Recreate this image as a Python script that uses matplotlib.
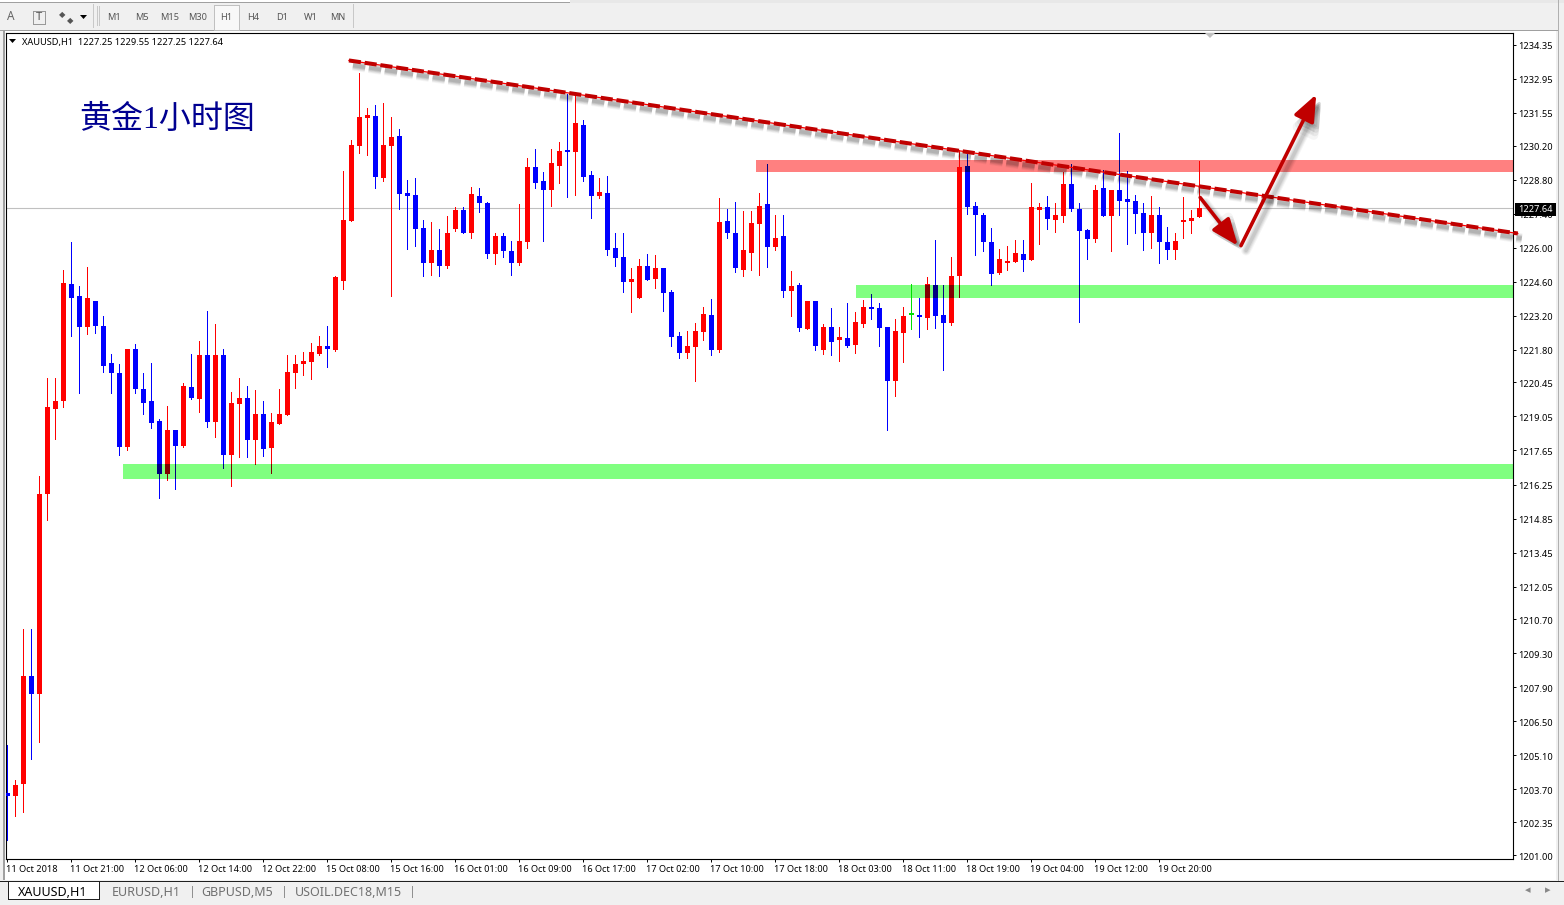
import matplotlib
matplotlib.use("Agg")
import matplotlib.pyplot as plt
from matplotlib.patches import Rectangle, FancyArrowPatch, Polygon
from matplotlib.transforms import offset_copy, ScaledTranslation

W, H = 1564, 905

opens = [1203.57,1203.45,1203.94,1208.39,1207.65,1215.84,1219.37,1219.67,1224.52,1224.02,
1222.75,1223.82,1222.79,1221.23,1220.82,1217.81,1221.84,1220.20,1219.67,1218.88,
1216.70,1218.51,1217.85,1220.28,1219.75,1221.60,1218.84,1221.56,1217.48,1219.58,
1219.79,1218.10,1219.17,1217.77,1218.76,1219.13,1220.82,1221.19,1221.31,1221.64,
1221.97,1221.80,1224.64,1227.11,1230.20,1231.35,1231.43,1228.88,1230.20,1230.61,
1228.26,1228.18,1226.82,1225.38,1225.92,1225.26,1226.78,1227.56,1226.62,1228.14,
1227.85,1225.75,1226.49,1225.84,1225.38,1226.21,1229.33,1228.72,1228.39,1229.37,
1230.03,1229.95,1231.06,1229.00,1228.14,1228.26,1226.00,1225.63,1224.60,1223.94,
1225.26,1224.72,1225.14,1224.19,1222.38,1221.68,1221.89,1222.54,1223.24,1221.80,
1227.11,1226.62,1225.09,1225.79,1226.99,1227.81,1226.04,1226.49,1224.23,1224.44,
1222.67,1223.82,1221.80,1222.75,1222.21,1222.26,1222.01,1222.87,1223.57,1223.53,
1222.75,1220.49,1222.50,1223.24,1223.20,1223.12,1224.48,1223.24,1222.91,1224.85,
1229.37,1227.73,1227.36,1226.25,1224.97,1225.38,1225.42,1225.75,1225.47,1227.56,
1227.65,1227.15,1227.28,1228.63,1227.60,1226.74,1226.37,1228.47,1227.28,1228.35,
1227.98,1227.93,1227.44,1226.58,1227.36,1226.21,1225.92,1227.07,1227.11,1227.25]
highs = [1205.55,1204.11,1210.32,1210.32,1216.58,1220.65,1220.65,1225.09,1226.25,1224.40,
1225.22,1223.82,1223.20,1221.64,1221.19,1221.84,1222.05,1220.82,1221.27,1218.96,
1219.50,1218.51,1220.44,1221.64,1222.17,1223.41,1222.87,1221.84,1220.07,1220.65,
1220.32,1220.12,1219.70,1219.21,1220.20,1221.56,1221.60,1221.72,1222.09,1222.38,
1222.79,1224.81,1229.17,1230.44,1233.20,1231.76,1231.88,1231.93,1231.39,1230.86,
1228.80,1228.88,1227.15,1227.07,1226.78,1227.32,1227.69,1227.65,1228.51,1228.47,
1227.89,1226.58,1226.58,1226.29,1227.81,1229.70,1230.07,1229.13,1230.07,1230.36,
1232.34,1232.30,1231.27,1229.17,1228.88,1228.96,1226.62,1226.62,1225.18,1225.51,
1225.75,1225.71,1225.18,1224.27,1222.54,1222.58,1222.91,1223.57,1223.90,1228.06,
1227.60,1227.89,1227.52,1227.52,1228.26,1229.42,1227.36,1227.36,1225.05,1224.56,
1223.82,1223.82,1222.87,1223.53,1222.75,1223.74,1223.33,1223.86,1224.11,1223.74,
1222.75,1223.08,1223.57,1224.52,1223.94,1224.77,1226.33,1224.48,1225.63,1230.03,
1230.03,1227.89,1227.44,1226.82,1225.96,1226.08,1226.33,1226.33,1228.67,1227.85,
1228.14,1227.85,1229.13,1229.42,1227.85,1226.78,1228.59,1229.21,1228.39,1230.73,
1229.17,1228.18,1227.85,1228.14,1227.65,1226.86,1226.62,1228.10,1227.56,1229.55]
lows = [1201.64,1202.63,1202.79,1204.97,1205.67,1214.77,1218.14,1219.46,1222.38,1220.03,
1222.46,1222.50,1220.90,1220.03,1217.48,1217.69,1220.03,1219.17,1218.59,1215.71,
1216.45,1216.08,1217.81,1219.75,1219.25,1218.63,1218.22,1216.95,1216.17,1217.40,
1217.40,1217.11,1217.44,1216.74,1218.76,1219.13,1220.24,1220.77,1220.61,1221.56,
1221.10,1221.76,1224.31,1227.11,1229.91,1229.83,1228.47,1228.72,1224.02,1227.60,
1225.96,1226.08,1224.81,1224.89,1224.81,1225.14,1226.70,1226.58,1226.41,1227.48,
1225.59,1225.34,1225.63,1224.89,1225.30,1226.00,1228.47,1226.29,1227.73,1228.67,
1228.10,1228.18,1228.72,1227.23,1228.02,1225.71,1225.26,1224.19,1223.33,1223.94,
1224.68,1224.35,1223.41,1221.93,1221.47,1221.47,1220.49,1222.21,1221.60,1221.72,
1226.41,1225.01,1224.81,1225.09,1224.89,1225.22,1225.88,1223.98,1223.20,1222.58,
1222.63,1221.80,1221.64,1221.60,1221.35,1221.89,1221.68,1222.75,1223.08,1221.97,
1218.51,1219.91,1221.31,1222.67,1222.34,1222.63,1222.71,1220.98,1222.83,1223.98,
1227.40,1225.71,1225.84,1224.44,1224.93,1225.09,1225.42,1225.05,1225.47,1226.16,
1226.78,1226.66,1227.07,1227.52,1222.95,1225.55,1226.25,1227.28,1225.84,1227.36,
1226.16,1226.62,1225.88,1226.00,1225.38,1225.55,1225.51,1226.41,1226.58,1227.25]
closes = [1203.45,1203.90,1208.39,1207.65,1215.84,1219.42,1219.67,1224.56,1223.94,1222.75,
1223.94,1222.79,1221.14,1220.82,1217.81,1221.84,1220.16,1219.62,1218.80,1216.70,
1218.51,1217.85,1220.32,1219.79,1221.56,1218.84,1221.56,1217.48,1219.62,1219.79,
1218.10,1219.17,1217.73,1218.84,1219.17,1220.90,1221.19,1221.35,1221.72,1221.93,
1221.84,1224.77,1227.15,1230.24,1231.39,1231.47,1228.92,1230.24,1230.57,1228.22,
1228.14,1226.78,1225.38,1225.88,1225.26,1226.62,1227.56,1226.62,1228.22,1227.85,
1225.75,1226.49,1225.84,1225.38,1226.29,1229.33,1228.67,1228.35,1229.46,1229.99,
1229.95,1231.14,1228.92,1228.14,1228.30,1225.92,1225.59,1224.60,1224.72,1225.26,
1224.68,1225.18,1224.15,1222.34,1221.68,1221.93,1222.58,1223.28,1221.80,1227.07,
1226.62,1225.14,1225.88,1227.03,1227.73,1226.04,1226.41,1224.23,1224.40,1222.71,
1223.82,1221.93,1222.75,1222.13,1222.30,1221.97,1222.95,1223.57,1223.49,1222.71,
1220.53,1222.58,1223.20,1223.24,1223.16,1224.52,1223.20,1222.91,1224.85,1229.33,
1227.69,1227.36,1226.25,1224.93,1225.51,1225.42,1225.79,1225.47,1227.65,1227.65,
1227.19,1227.36,1228.63,1227.60,1226.70,1226.37,1228.35,1227.28,1228.35,1227.93,
1227.89,1227.40,1226.62,1227.36,1226.21,1225.92,1226.29,1227.11,1227.23,1227.64]

price_ticks = [1234.35,1232.95,1231.55,1230.20,1228.80,1227.40,1226.00,1224.60,1223.20,1221.80,
1220.45,1219.05,1217.65,1216.25,1214.85,1213.45,1212.05,1210.70,1209.30,1207.90,
1206.50,1205.10,1203.70,1202.35,1201.00]
time_labels = ["11 Oct 2018","11 Oct 21:00","12 Oct 06:00","12 Oct 14:00","12 Oct 22:00",
"15 Oct 08:00","15 Oct 16:00","16 Oct 01:00","16 Oct 09:00","16 Oct 17:00","17 Oct 02:00",
"17 Oct 10:00","17 Oct 18:00","18 Oct 03:00","18 Oct 11:00","18 Oct 19:00","19 Oct 04:00",
"19 Oct 12:00","19 Oct 20:00"]
timeframes = ["M1","M5","M15","M30","H1","H4","D1","W1","MN"]
timeframe_x = [114,142,170,198,226,253,282,311,338]
tabs = ["XAUUSD,H1","EURUSD,H1","GBPUSD,M5","USOIL.DEC18,M15"]
tab_x = [53,146,237,348]

zone_start = [14.46, 106.1, 93.6]
zone_low = [1216.49, 1223.94, 1229.13]
zone_high = [1217.11, 1224.44, 1229.62]
zone_color = ["#80FF80", "#80FF80", "#FF8080"]
last_price = 1227.64
trend_x = [42.7, 188.8]
trend_y = [1233.70, 1226.58]
arrow_down = [(149.1, 1228.06), (153.8, 1226.08)]
arrow_up = [(154.2, 1226.08), (163.6, 1232.30)]

BLUE, RED, LIME, DARK = "#0000FF", "#FF0000", "#00E000", "#C00000"
UI_FONT = ["Noto Sans", "DejaVu Sans"]

fig = plt.figure(figsize=(W / 100, H / 100), dpi=100, facecolor="#F0F0F0")
def fx(x): return x / W
def fy(y): return 1 - y / H
def box(x0, y0, x1, y1, fc, ec="none", lw=0, z=-2):
    fig.add_artist(Rectangle((fx(x0), fy(y1)), (x1 - x0) / W, (y1 - y0) / H, transform=fig.transFigure,
                             fc=fc, ec=ec, lw=lw, zorder=z, antialiased=False))
def label(x, y, s, color="black", size=6.6, ha="center", z=3, **kw):
    fig.text(fx(x), fy(y), s, color=color, fontsize=size, ha=ha, va="center", zorder=z, family=UI_FONT, **kw)

# window chrome
box(0, 0, W, 31, "#F0F0F0")
box(0, 0, 570, 2, "#FFFFFF")
box(0, 2, 570, 3, "#A0A0A0")
box(570, 0, W, 3, "#E8E8E8")
box(0, 30, 1558, 31, "#A0A0A0")
box(3, 31, 5, 880, "#A0A0A0")
box(5, 31, 1556, 880, "#FFFFFF")
box(1558, 0, 1559, H, "#B0B0B0")
box(0, 881, W, H, "#F0F0F0")
box(0, 881, W, 882, "#202020")
box(8, 882, 100, 900, "#FFFFFF")
box(8, 882, 9, 900, "#202020")
box(99, 882, 100, 900, "#202020")
box(8, 899, 100, 900, "#202020")
box(93, 4, 94, 28, "#C8C8C8")
box(353, 4, 354, 28, "#C8C8C8")
box(214, 5, 239, 30, "#F8F8F8", ec="#C0C0C0", lw=0.7)
for sx in [192, 284, 412]:
    box(sx, 886, sx + 1, 898, "#909090")
label(11, 17, "A", color="#666666", size=8.5, fontweight="bold")
label(39, 17, "T", color="#555555", size=8)
box(33, 11, 45, 24, "none", ec="#999999", lw=0.6)
label(62, 14.5, "◆", color="#555555", size=6)
label(70, 20.5, "◆", color="#555555", size=6)
fig.add_artist(Polygon([[fx(80), fy(15)], [fx(87), fy(15)], [fx(83.5), fy(19)]], transform=fig.transFigure, fc="black", zorder=3))
for xp in range(97, 100, 2):
    box(xp, 6, xp + 1, 26, "#C8C8C8")
for s, x in zip(timeframes, timeframe_x):
    label(x, 17, s, color="#555555")
for i, (s, x) in enumerate(zip(tabs, tab_x)):
    label(x, 892, s, color="black" if i == 0 else "#707070", size=9)
label(1528, 891, "◂", color="#888888", size=8)
label(1548, 891, "▸", color="#888888", size=8)

# chart
L, R, T, B = 6, 1513, 33, 859
ax = fig.add_axes([fx(L), fy(B), (R - L) / W, (B - T) / H], facecolor="white")
ax.set_xlim(-0.1625, 188.2)
ax.set_ylim(1200.84, 1234.83)
xs = list(range(len(opens)))
def candle_color(o, c):
    return LIME if o == c else (RED if c > o else BLUE)
colors = [candle_color(o, c) for o, c in zip(opens, closes)]
tops = [max(o, c) for o, c in zip(opens, closes)]
bots = [min(o, c) for o, c in zip(opens, closes)]
heights = [max(t - b, 0.05) for t, b in zip(tops, bots)]

ax.axhline(last_price, color="#C0C0C0", lw=0.8, zorder=1)
rects = []
for s, lo, hi, col in zip(zone_start, zone_low, zone_high, zone_color):
    r = Rectangle((s, lo), 200, hi - lo, fc=col, ec="none", zorder=2, antialiased=False)
    ax.add_patch(r)
    rects.append(r)
WICK = 0.7
ax.vlines(xs, lows, highs, colors=colors, lw=WICK, zorder=3, antialiased=False)
ax.bar(xs, heights, bottom=bots, width=0.625, color=colors, zorder=4, antialiased=False)

# candles darken where they pass through a zone
for r, col in zip(rects, zone_color):
    def dark(c):
        if c == BLUE:
            return "#000080"
        if c == RED and col == "#80FF80":
            return "#800000"
        return c
    dc = [dark(c) for c in colors]
    v = ax.vlines(xs, lows, highs, colors=dc, lw=WICK, zorder=5, antialiased=False)
    v.set_clip_path(r)
    for p in ax.bar(xs, heights, bottom=bots, width=0.625, color=dc, zorder=6, antialiased=False):
        p.set_clip_path(r)

# drawn annotations with a soft shadow
def shadow_tf(dx=4, dy=-5):
    return offset_copy(ax.transData, fig=fig, x=dx, y=dy, units="dots")
for lw, a in [(7.5, 0.035), (6.5, 0.04), (5.5, 0.05), (4.5, 0.06), (3.5, 0.07), (2.5, 0.08)]:
    ax.plot(trend_x, trend_y, color="black", lw=lw, alpha=a, ls=(0, (9.0 / lw, 2.6 / lw)),
            transform=shadow_tf(), zorder=7, clip_on=False, dash_capstyle="butt")
ax.plot(trend_x, trend_y, color=RED, lw=0.9, zorder=8, clip_on=False)
ax.plot(trend_x, trend_y, color=DARK, lw=2.9, ls=(0, (3.0, 0.95)), zorder=9, clip_on=False, dash_capstyle="butt")

HEAD = "-|>,head_length=16,head_width=6.5"
for a0, a1 in (arrow_down, arrow_up):
    for lw, al in [(7, 0.04), (5.5, 0.05), (4, 0.06), (2.5, 0.08)]:
        ax.add_patch(FancyArrowPatch(a0, a1, arrowstyle=HEAD, mutation_scale=1,
                                     shrinkA=0, shrinkB=0, lw=lw, color="black", alpha=al,
                                     transform=shadow_tf(5, -5), zorder=10, clip_on=False))
    ax.add_patch(FancyArrowPatch(a0, a1, arrowstyle=HEAD, mutation_scale=1,
                                 shrinkA=0, shrinkB=0, lw=2.6, color=DARK, zorder=11, clip_on=False))

ax.text(9.0, 1231.24, "黄金1小时图", color="#000090", fontsize=23, va="center", ha="left",
        family=["Liberation Serif", "Noto Sans CJK SC"], zorder=12)

for s in ax.spines.values():
    s.set_linewidth(0.8)
    s.set_color("black")
ax.yaxis.tick_right()
ax.set_yticks(price_ticks)
ax.set_yticklabels([f"{p:.2f}" for p in price_ticks], fontsize=6.7, family="Noto Sans")
ax.tick_params(axis="y", length=2.5, width=0.7, pad=1.5)
ax.set_xticks(xs[::8][:len(time_labels)])
ax.set_xticklabels(time_labels, fontsize=6.6, family="Noto Sans", ha="left")
ax.tick_params(axis="x", length=2.5, width=0.7, pad=1.5)
nudge_y = ScaledTranslation(0, -1 / 100, fig.dpi_scale_trans)
nudge_x = ScaledTranslation(-1 / 100, 0, fig.dpi_scale_trans)
for t in ax.get_yticklabels():
    t.set_transform(t.get_transform() + nudge_y)
for t in ax.get_xticklabels():
    t.set_transform(t.get_transform() + nudge_x)

# header, last-price tag and the chart-shift marker
fig.add_artist(Polygon([[fx(9), fy(39)], [fx(16), fy(39)], [fx(12.5), fy(43)]], transform=fig.transFigure, fc="black", zorder=3))
label(22, 42.5, f"XAUUSD,H1  {opens[-1]:.2f} {highs[-1]:.2f} {lows[-1]:.2f} {closes[-1]:.2f}", ha="left", size=6.65)
fig.add_artist(Polygon([[fx(1205), fy(33)], [fx(1215), fy(33)], [fx(1210), fy(38)]], transform=fig.transFigure, fc="#C0C0C0", zorder=3))
box(1515, 203, 1556, 216, "black", z=4)
label(1535.5, 209.5, f"{last_price:.2f}", color="white", z=5)

fig.savefig("out.png", dpi=100, facecolor=fig.get_facecolor())
